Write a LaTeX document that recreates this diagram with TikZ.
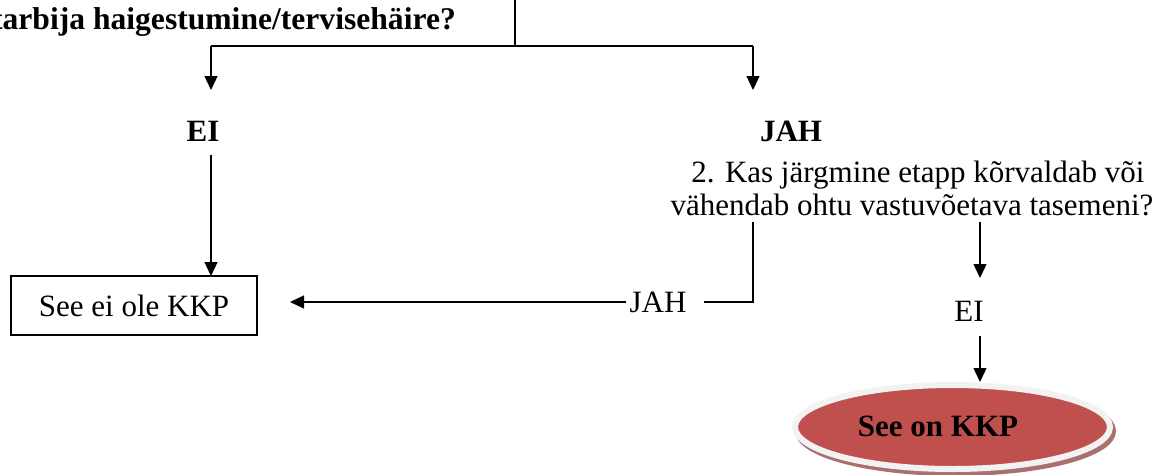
\documentclass[tikz,border=0pt]{standalone}
\usepackage{fontspec}
\setmainfont{Liberation Serif}
\usetikzlibrary{arrows.meta,shapes.geometric,shadows}
\definecolor{kkpred}{HTML}{C0504D}
\definecolor{kkprim}{HTML}{F2F2F2}
\definecolor{kkpshadow}{HTML}{A9706E}
\begin{document}
\begin{tikzpicture}[x=1pt,y=-1pt,
  conn/.style={line width=1.3pt},
  arr/.style={conn,-{Triangle[length=14pt,width=13pt]}},
  txt/.style={inner sep=0pt,font=\fontsize{31}{33}\selectfont},
  btxt/.style={txt,font=\fontsize{31}{33}\selectfont\bfseries},
  boxnode/.style={draw,line width=1.3pt,minimum width=246pt,minimum height=59pt,inner sep=0pt,font=\fontsize{31}{33}\selectfont},
  endnode/.style={ellipse,draw=kkprim,line width=6pt,fill=kkpred,minimum width=315pt,minimum height=84pt,inner sep=0pt,
    copy shadow={shadow xshift=3pt,shadow yshift=-4pt,draw=kkpshadow,fill=kkpshadow}}]
\useasboundingbox (0,0) rectangle (1167,474);

% question 1 (cut at left edge)
\node[txt,font=\fontsize{31.6}{33}\selectfont\bfseries,anchor=base east] (q1) at (456,29) {tarbija haigestumine/tervisehäire?};
\coordinate (q1out) at (515,0);
\coordinate (split) at (515,46);
\coordinate (splitL) at (211,46);
\coordinate (splitR) at (753,46);
\coordinate (tipL) at (211,90);
\coordinate (tipR) at (753,90);
\draw[conn] (q1out) -- (split);
\draw[conn] (splitL) -- (splitR);
\draw[arr] (splitL) -- (tipL);
\draw[arr] (splitR) -- (tipR);

% answers to question 1
\node[btxt] (ei1) at (203,131) {EI};
\node[btxt] (jah1) at (791,131) {JAH};

% question 2
\node[txt,align=center] (q2) at (912,188) {\hspace*{12pt}2. Kas järgmine etapp kõrvaldab või\\vähendab ohtu vastuvõetava tasemeni?};

% left result
\node[boxnode] (notkkp) at (134,305.5) {See ei ole KKP};
\coordinate (ei1down) at (211,155);
\coordinate (notkkptip) at (211,276);
\draw[arr] (ei1down) -- (notkkptip);

% JAH branch of question 2
\coordinate (q2jah) at (753,222);
\coordinate (jahR) at (704,302);
\node[txt] (jah2) at (658,302) {JAH};
\coordinate (jahL) at (626,302);
\coordinate (notkkpin) at (290,302);
\draw[conn] (q2jah) |- (jahR);
\draw[arr] (jahL) -- (notkkpin);

% EI branch of question 2
\coordinate (q2ei) at (980,222);
\coordinate (ei2tip) at (980,278);
\node[txt] (ei2) at (969,311) {EI};
\coordinate (ei2down) at (980,336);
\draw[arr] (q2ei) -- (ei2tip);

% final result
\node[endnode] (kkp) at (952.5,427) {};
\node[btxt] (kkptext) at (938,426) {See on KKP};
\draw[arr] (ei2down) -- (ei2down |- kkp.north);
\end{tikzpicture}
\end{document}
